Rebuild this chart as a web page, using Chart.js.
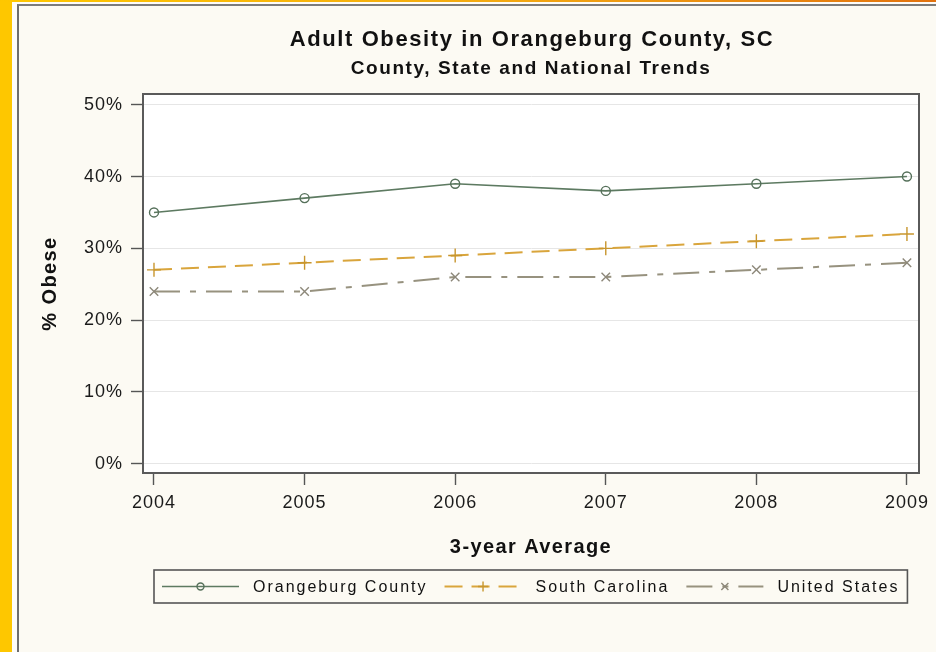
<!DOCTYPE html>
<html>
<head>
<meta charset="utf-8">
<title>Adult Obesity in Orangeburg County, SC</title>
<script src="https://cdn.jsdelivr.net/npm/chart.js@4.4.0/dist/chart.umd.min.js"></script>
<style>
  html, body { margin: 0; padding: 0; width: 936px; height: 652px; overflow: hidden; background: #fcfaf3; }
  #band-left { position: absolute; left: 0; top: 0; width: 12px; height: 652px; background: #fec700; }
  #band-top { position: absolute; left: 0; top: 0; width: 936px; height: 2px;
              background: linear-gradient(to right, #fec700, #f3a812 55%, #e2720e); }
  #sheet { position: absolute; left: 12px; top: 2px; width: 940px; height: 660px; background: #fdfcf9; }
  #panel { position: absolute; left: 17px; top: 4px; width: 940px; height: 660px;
           border-left: 2px solid #6e6e6e; border-top: 2px solid #7c7c7c; background: #fcfaf3; }
  canvas { position: absolute; left: 0; top: 0; }
</style>
</head>
<body>
<div id="band-left"></div>
<div id="band-top"></div>
<div id="sheet"></div>
<div id="panel"></div>
<canvas id="chart" width="936" height="652"></canvas>
<script>
// 3-year average adult obesity rates (%)
const years = [2004, 2005, 2006, 2007, 2008, 2009];
const orangeburg = [35, 37, 39, 38, 39, 40];
const southCarolina = [27, 28, 29, 30, 31, 32];
const unitedStates = [24, 24, 26, 26, 27, 28];
const yTicks = [0, 10, 20, 30, 40, 50];

const seriesNames = ['Orangeburg County', 'South Carolina', 'United States'];
const chartTitle = 'Adult Obesity in Orangeburg County, SC';
const chartSubtitle = 'County, State and National Trends';
const xTitle = '3-year Average';
const yTitle = '% Obese';

const FONT = "'Liberation Sans', Arial, sans-serif";

function toPoints(values) {
  return values.map((v, i) => ({ x: years[i], y: v }));
}

const datasets = [
  {
    label: seriesNames[0],
    data: toPoints(orangeburg),
    borderColor: '#5d7a61',
    borderWidth: 1.6,
    pointStyle: 'circle',
    pointRadius: 4.5,
    pointBorderWidth: 1.4,
    pointBorderColor: '#55705a',
    pointBackgroundColor: 'rgba(255,255,255,0)'
  },
  {
    label: seriesNames[1],
    data: toPoints(southCarolina),
    borderColor: '#d9a53c',
    borderWidth: 2,
    borderDash: [18, 9],
    pointStyle: 'cross',
    pointRadius: 7,
    pointBorderWidth: 1.4,
    pointBorderColor: '#c8962e',
    pointBackgroundColor: 'rgba(255,255,255,0)'
  },
  {
    label: seriesNames[2],
    data: toPoints(unitedStates),
    borderColor: '#97927f',
    borderWidth: 2,
    borderDash: [26, 10, 6, 10],
    pointStyle: 'crossRot',
    pointRadius: 6,
    pointBorderWidth: 1.4,
    pointBorderColor: '#8d887a',
    pointBackgroundColor: 'rgba(255,255,255,0)'
  }
];

datasets.forEach(d => { d.tension = 0; d.fill = false; d.clip = false; });

const decorations = {
  id: 'decorations',
  beforeDraw(chart) {
    const { ctx, chartArea: a } = chart;
    ctx.letterSpacing = '1px';
    ctx.save();
    ctx.fillStyle = '#ffffff';
    ctx.fillRect(a.left, a.top, a.right - a.left, a.bottom - a.top);
    ctx.restore();
  },
  afterDraw(chart) {
    const { ctx, chartArea: a } = chart;
    const cx = (a.left + a.right) / 2;
    ctx.save();

    // plot frame (top and right edges)
    ctx.strokeStyle = '#5a5a5a';
    ctx.lineWidth = 2;
    ctx.setLineDash([]);
    ctx.beginPath();
    ctx.moveTo(a.left, a.top);
    ctx.lineTo(a.right, a.top);
    ctx.lineTo(a.right, a.bottom);
    ctx.stroke();

    // titles
    ctx.fillStyle = '#111111';
    ctx.textAlign = 'center';
    ctx.textBaseline = 'alphabetic';
    ctx.letterSpacing = '1.6px';
    ctx.font = `bold 22px ${FONT}`;
    ctx.fillText(chartTitle, cx + 1, 46);
    ctx.font = `bold 19px ${FONT}`;
    ctx.fillText(chartSubtitle, cx, 74);

    // axis titles
    ctx.letterSpacing = '1.4px';
    ctx.font = `bold 20px ${FONT}`;
    ctx.fillText(xTitle, cx, 553);
    ctx.save();
    ctx.translate(56, (a.top + a.bottom) / 2);
    ctx.rotate(-Math.PI / 2);
    ctx.fillText(yTitle, 0, 0);
    ctx.restore();

    // legend
    ctx.font = `16px ${FONT}`;
    ctx.letterSpacing = '2px';
    const sampleW = 77, gapAfterSample = 14, gapAfterText = 17, pad = 8;
    const textW = chart.data.datasets.map(d => ctx.measureText(d.label).width);
    let total = pad * 2 + chart.data.datasets.length * (sampleW + gapAfterSample) +
                (chart.data.datasets.length - 1) * gapAfterText + textW.reduce((s, w) => s + w, 0);
    const boxL = Math.round(cx - total / 2);
    const boxT = 570, boxH = 33;
    const midY = boxT + boxH / 2;
    ctx.strokeStyle = '#555555';
    ctx.lineWidth = 1.6;
    ctx.strokeRect(boxL, boxT, total, boxH);

    let x = boxL + pad;
    chart.data.datasets.forEach((d, i) => {
      ctx.save();
      ctx.strokeStyle = d.borderColor;
      ctx.lineWidth = d.borderWidth;
      ctx.setLineDash(d.borderDash || []);
      ctx.beginPath();
      ctx.moveTo(x, midY);
      ctx.lineTo(x + sampleW, midY);
      ctx.stroke();
      ctx.setLineDash([]);
      ctx.strokeStyle = d.pointBorderColor;
      ctx.fillStyle = 'rgba(255,255,255,0)';
      ctx.lineWidth = d.pointBorderWidth;
      Chart.helpers.drawPoint(ctx, {
        pointStyle: d.pointStyle,
        radius: d.pointStyle === 'circle' ? 3.5 : 5,
        borderWidth: d.pointBorderWidth,
        rotation: 0
      }, x + sampleW / 2, midY);
      ctx.restore();
      x += sampleW + gapAfterSample;
      ctx.fillStyle = '#111111';
      ctx.textAlign = 'left';
      ctx.textBaseline = 'middle';
      ctx.fillText(d.label, x, midY + 1);
      x += textW[i] + gapAfterText;
    });

    ctx.restore();
  }
};

new Chart(document.getElementById('chart'), {
  type: 'line',
  data: { datasets },
  plugins: [decorations],
  options: {
    responsive: false,
    animation: false,
    devicePixelRatio: 1,
    layout: { padding: { left: 0, top: 94, right: 17, bottom: 0 } },
    plugins: {
      legend: { display: false },
      title: { display: false },
      tooltip: { enabled: false }
    },
    scales: {
      x: {
        type: 'linear',
        min: 2003.927,
        max: 2009.08,
        afterBuildTicks(scale) { scale.ticks = years.map(v => ({ value: v })); },
        afterFit(scale) { scale.height = 179; },
        border: { display: true, color: '#5a5a5a', width: 2 },
        grid: { drawOnChartArea: false, drawTicks: true, tickLength: 12, tickColor: '#555555', tickWidth: 1.4 },
        ticks: {
          padding: 7,
          maxRotation: 0,
          color: '#1a1a1a',
          font: { family: FONT, size: 18 },
          callback: v => String(v)
        }
      },
      y: {
        type: 'linear',
        min: -1.3,
        max: 51.5,
        afterBuildTicks(scale) { scale.ticks = yTicks.map(v => ({ value: v })); },
        afterFit(scale) { scale.width = 143; },
        border: { display: true, color: '#5a5a5a', width: 2 },
        grid: { color: '#e6e6e6', lineWidth: 1, drawTicks: true, tickLength: 12, tickColor: '#555555', tickWidth: 1.4 },
        ticks: {
          padding: 8,
          color: '#1a1a1a',
          font: { family: FONT, size: 18 },
          callback: v => v + '%'
        }
      }
    }
  }
});
</script>
</body>
</html>
